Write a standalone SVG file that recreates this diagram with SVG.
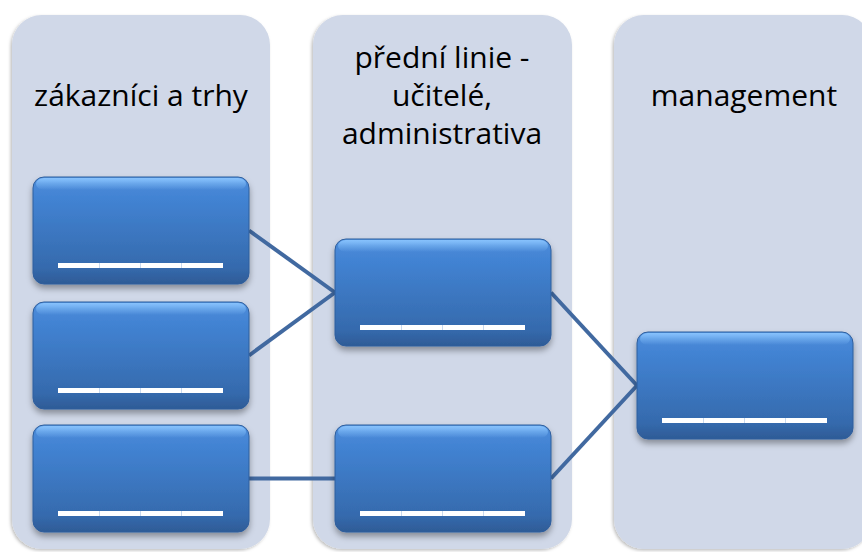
<svg xmlns="http://www.w3.org/2000/svg" width="862" height="552" viewBox="0 0 862 552">
  <defs>
    <linearGradient id="boxFill" x1="0" y1="0" x2="0" y2="1">
      <stop offset="0" stop-color="#5a9ce8"/>
      <stop offset="0.06" stop-color="#4a8ad8"/>
      <stop offset="0.2" stop-color="#4283d3"/>
      <stop offset="0.85" stop-color="#356aad"/>
      <stop offset="1" stop-color="#2e5b96"/>
    </linearGradient>
    <linearGradient id="topGloss" x1="0" y1="0" x2="0" y2="1">
      <stop offset="0" stop-color="#8cc6ff" stop-opacity="0.9"/>
      <stop offset="1" stop-color="#8cc6ff" stop-opacity="0"/>
    </linearGradient>
    <filter id="colShadow" x="-5%" y="-5%" width="110%" height="110%">
      <feDropShadow dx="-1.5" dy="1.5" stdDeviation="1.5" flood-color="#000" flood-opacity="0.25"/>
    </filter>
    <filter id="boxShadow" x="-10%" y="-10%" width="120%" height="130%">
      <feDropShadow dx="0" dy="4" stdDeviation="3" flood-color="#000" flood-opacity="0.35"/>
    </filter>
    <g id="bar">
      <rect x="0" y="0" width="165" height="5" fill="#ffffff"/>
      <rect x="41" y="0" width="1" height="5" fill="#c9d9ee"/>
      <rect x="82" y="0" width="1" height="5" fill="#c9d9ee"/>
      <rect x="123" y="0" width="1" height="5" fill="#c9d9ee"/>
    </g>
    <g id="node">
      <rect x="0" y="0" width="216" height="107" rx="11" fill="url(#boxFill)" stroke="#2f5e9c" stroke-width="1" filter="url(#boxShadow)"/>
      <rect x="3" y="1" width="210" height="12" rx="8" fill="url(#topGloss)"/>
      <use href="#bar" x="25" y="86"/>
    </g>
  </defs>
  <style>
    .col { fill: #d0d8e8; filter: url(#colShadow); }
    .title { font-family: "Open Sans", "Noto Sans", sans-serif; font-size: 30px; fill: #000; text-anchor: middle; }
    .conn { stroke: #4169a0; stroke-width: 4; fill: none; stroke-linecap: butt; }
  </style>
  <rect width="862" height="552" fill="#ffffff"/>

  <g id="column-zakaznici">
    <rect class="col" x="12" y="15" width="258" height="534" rx="30"/>
    <text class="title" x="141" y="106">zákazníci a trhy</text>
  </g>
  <g id="column-predni-linie">
    <rect class="col" x="313" y="15" width="259" height="534" rx="30"/>
    <text class="title" x="442" y="68">přední linie -</text>
    <text class="title" x="442" y="106">učitelé,</text>
    <text class="title" x="442" y="144">administrativa</text>
  </g>
  <g id="column-management">
    <rect class="col" x="614" y="15" width="258" height="534" rx="30"/>
    <text class="title" x="744" y="106">management</text>
  </g>

  <g id="connectors">
    <line class="conn" x1="249" y1="230.5" x2="335" y2="292.5"/>
    <line class="conn" x1="249" y1="355.5" x2="335" y2="292.5"/>
    <line class="conn" x1="249" y1="478.5" x2="335" y2="478.5"/>
    <line class="conn" x1="551" y1="292.5" x2="637" y2="385.5"/>
    <line class="conn" x1="551" y1="478.5" x2="637" y2="385.5"/>
  </g>

  <g id="node-left-1"><use href="#node" x="33" y="177"/></g>
  <g id="node-left-2"><use href="#node" x="33" y="302"/></g>
  <g id="node-left-3"><use href="#node" x="33" y="425"/></g>
  <g id="node-middle-1"><use href="#node" x="335" y="239"/></g>
  <g id="node-middle-2"><use href="#node" x="335" y="425"/></g>
  <g id="node-right"><use href="#node" x="637" y="332"/></g>
</svg>
